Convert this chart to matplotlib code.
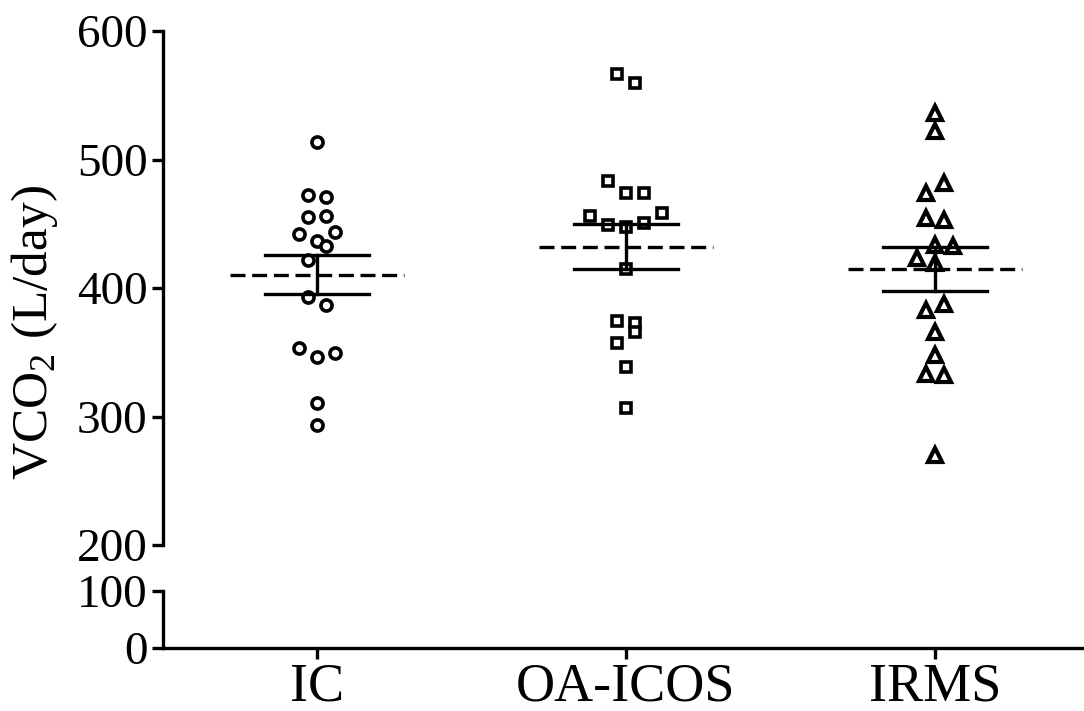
import numpy as np
import matplotlib
matplotlib.use('Agg')
import matplotlib.pyplot as plt

plt.rcParams['font.family'] = 'Liberation Serif'
plt.rcParams['mathtext.fontset'] = 'custom'
plt.rcParams['mathtext.rm'] = 'Liberation Serif'

groups = ['IC', 'OA-ICOS', 'IRMS']

ic_vals = [513.9, 472.4, 470.6, 455.0, 456.3, 441.8, 443.3, 436.6, 432.9,
           421.8, 393.2, 386.8, 353.1, 346.5, 349.2, 310.3, 293.4]
ic_jit = [0, -1, 1, -1, 1, -2, 2, 0, 1, -1, -1, 1, -2, 0, 2, 0, 0]

oa_vals = [566.5, 559.8, 483.5, 473.7, 473.7, 456.3, 458.1, 449.0, 447.7,
           450.3, 414.8, 374.6, 372.5, 366.0, 357.4, 338.3, 306.4]
oa_jit = [-1, 1, -2, 0, 2, -4, 4, -2, 0, 2, 0, -1, 1, 1, -1, 0, 0]

irms_vals = [536.0, 522.2, 481.5, 473.7, 454.7, 452.9, 433.5, 432.9, 423.1,
             419.2, 382.9, 387.5, 366.0, 347.9, 332.8, 332.3, 270.0]
irms_jit = [0, 0, 1, -1, -1, 1, 0, 2, -2, 0, -1, 1, 0, 0, -1, 1, 0]

data = [ic_vals, oa_vals, irms_vals]
jits = [ic_jit, oa_jit, irms_jit]
markers = ['o', 's', '^']
msizes = [8.0, 7.5, 10.0]
mews = [2.6, 2.6, 3.0]

fig = plt.figure(figsize=(10.84, 7.11), dpi=100)
ax = fig.add_axes([163/1084, 1-545/711, (1084-163)/1084, (545-31)/711])
axl = fig.add_axes([163/1084, 1-648/711, (1084-163)/1084, (648-591)/711])

lw = 2.4
step = 9/309.0
for i in range(len(groups)):
    vals = np.array(data[i])
    x = i + np.array(jits[i])*step
    ax.plot(x, vals, linestyle='none', marker=markers[i], ms=msizes[i],
            mfc='white', mec='black', mew=mews[i], zorder=3)
    m = vals.mean()
    sem = vals.std(ddof=1)/np.sqrt(len(vals))
    # mean (dashed) and SEM bars (solid)
    ax.plot([i-0.28, i+0.28], [m, m], color='black', lw=lw,
            linestyle=(0, (4.5, 2)), zorder=4)
    ax.plot([i-0.167, i+0.167], [m+sem, m+sem], color='black', lw=lw, zorder=4)
    ax.plot([i-0.167, i+0.167], [m-sem, m-sem], color='black', lw=lw, zorder=4)
    ax.plot([i, i], [m-sem, m+sem], color='black', lw=lw, zorder=4)

xl = (-(317-163)/309.0, (1084-317)/309.0)
for a in [ax, axl]:
    a.set_xlim(xl)
    a.spines['top'].set_visible(False)
    a.spines['right'].set_visible(False)
    a.spines['left'].set_linewidth(lw)
    a.spines['bottom'].set_linewidth(lw)
    a.tick_params(axis='y', length=8, width=lw, labelsize=34, pad=3)
    a.patch.set_visible(False)

ax.spines['bottom'].set_visible(False)
ax.set_ylim(200, 600)
ax.set_yticks([200, 300, 400, 500, 600])
ax.set_xticks([])

axl.set_ylim(0, 100)
axl.set_yticks([0, 100])
axl.set_xticks(range(len(groups)))
axl.set_xticklabels(groups)
axl.tick_params(axis='x', length=8, width=lw, labelsize=39, pad=2)

fig.text(35/1084, 1-332/711, 'VCO$_{\\mathrm{2}}$ (L/day)', rotation=90,
         ha='center', va='center', fontsize=37)

fig.savefig('out.png', dpi=100)
